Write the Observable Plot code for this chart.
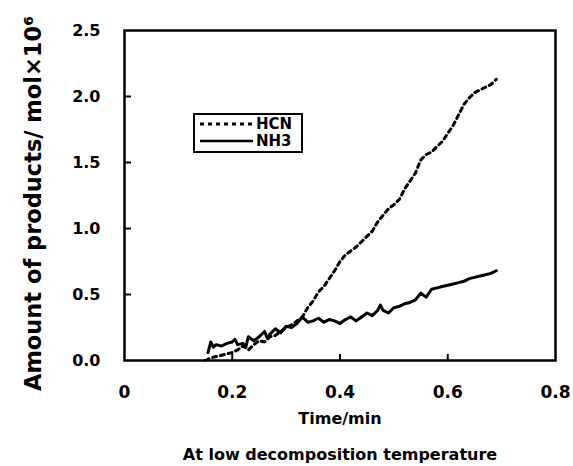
<!DOCTYPE html>
<html><head><meta charset="utf-8">
<script src="https://cdn.jsdelivr.net/npm/d3@7"></script>
<script src="https://cdn.jsdelivr.net/npm/@observablehq/plot@0.6"></script>
<style>
body{margin:0;background:#fff;}
#wrap{position:relative;width:573px;height:466px;}
#legend{position:absolute;left:193px;top:113px;width:110px;height:40px;box-sizing:border-box;border:2px solid #000;background:#fff;}
#legend svg{display:block;}
</style></head><body><div id="wrap"></div>
<script>
const seriesNames = ["HCN", "NH3"];
const hcnTime = [0.15,0.16,0.17,0.18,0.19,0.20,0.21,0.22,0.23,0.24,0.25,0.26,0.27,0.28,0.29,0.30,0.31,0.32,0.33,0.34,0.35,0.36,0.37,0.38,0.39,0.40,0.41,0.42,0.43,0.44,0.45,0.46,0.47,0.48,0.49,0.50,0.51,0.52,0.53,0.54,0.55,0.56,0.57,0.58,0.59,0.60,0.61,0.62,0.63,0.64,0.65,0.66,0.67,0.68,0.69];
const hcnAmount = [0.00,0.02,0.03,0.04,0.05,0.06,0.08,0.11,0.08,0.12,0.15,0.14,0.18,0.19,0.22,0.25,0.27,0.30,0.33,0.40,0.45,0.52,0.56,0.62,0.68,0.75,0.80,0.83,0.86,0.90,0.94,0.98,1.05,1.10,1.15,1.18,1.22,1.30,1.36,1.42,1.52,1.56,1.58,1.62,1.66,1.72,1.78,1.86,1.94,1.99,2.03,2.05,2.07,2.09,2.13];
const nh3Time = [0.155,0.16,0.165,0.17,0.18,0.19,0.20,0.205,0.21,0.22,0.225,0.23,0.24,0.25,0.26,0.265,0.27,0.28,0.29,0.30,0.31,0.32,0.33,0.34,0.35,0.36,0.37,0.38,0.39,0.40,0.41,0.42,0.43,0.44,0.45,0.46,0.47,0.475,0.48,0.49,0.50,0.51,0.52,0.53,0.54,0.55,0.56,0.57,0.58,0.59,0.60,0.61,0.62,0.63,0.64,0.65,0.66,0.67,0.68,0.69];
const nh3Amount = [0.06,0.14,0.10,0.12,0.11,0.13,0.14,0.16,0.12,0.13,0.10,0.18,0.15,0.18,0.22,0.17,0.20,0.24,0.21,0.26,0.25,0.28,0.33,0.29,0.30,0.32,0.29,0.31,0.30,0.28,0.31,0.33,0.30,0.33,0.36,0.34,0.38,0.42,0.38,0.36,0.40,0.41,0.43,0.44,0.46,0.51,0.48,0.54,0.55,0.56,0.57,0.58,0.59,0.60,0.62,0.63,0.64,0.65,0.66,0.68];
const xTicks = [0, 0.2, 0.4, 0.6, 0.8];
const yTicks = [0, 0.5, 1.0, 1.5, 2.0, 2.5];
const xInnerTicks = [0.2, 0.4, 0.6];
const yInnerTicks = [0.5, 1.0, 1.5, 2.0];
const xTitle = "Time/min";
const yTitle = "Amount of products/ mol×10⁶";
const captionText = "At low decomposition temperature";

const hcn = hcnTime.map((t, i) => ({t, v: hcnAmount[i]}));
const nh3 = nh3Time.map((t, i) => ({t, v: nh3Amount[i]}));

const W = 573, H = 466, mL = 124, mR = 18, mT = 30, mB = 106;
const pw = W - mL - mR, ph = H - mT - mB;
const font = "DejaVu Sans";

const chart = Plot.plot({
  width: W, height: H,
  marginLeft: mL, marginRight: mR, marginTop: mT, marginBottom: mB,
  style: {fontFamily: font, fontWeight: "bold", color: "#000", background: "#fff", overflow: "visible"},
  x: {domain: [0, 0.8]},
  y: {domain: [0, 2.5]},
  marks: [
    Plot.axisX(xTicks, {tickSize: 0, tickPadding: 25, fontSize: 17, fontWeight: "bold", tickFormat: d => d === 0 ? "0" : d.toFixed(1), label: null}),
    Plot.axisY(yTicks, {tickSize: 0, tickPadding: 24, fontSize: 16, fontWeight: "bold", tickFormat: d => d.toFixed(1), label: null}),
    Plot.tickY(yInnerTicks, {y: d => d, insetRight: pw - 7, strokeWidth: 2}),
    Plot.tickX(xInnerTicks, {x: d => d, insetTop: ph - 6, strokeWidth: 2}),
    Plot.line(nh3, {x: "t", y: "v", stroke: "#000", strokeWidth: 3, strokeLinejoin: "round"}),
    Plot.line(hcn, {x: "t", y: "v", stroke: "#000", strokeWidth: 3, strokeDasharray: "4,4"}),
    Plot.frame({stroke: "#000", strokeWidth: 2.5}),
    Plot.text([xTitle], {text: d => d, frameAnchor: "bottom", dy: 58, lineAnchor: "middle", fontSize: 16, fontWeight: "bold", fontFamily: font}),
    Plot.text([captionText], {text: d => d, frameAnchor: "bottom", dy: 94, lineAnchor: "middle", fontSize: 16, fontWeight: "bold", fontFamily: font}),
    Plot.text([yTitle], {text: d => d, frameAnchor: "left", dx: -91, dy: 8, rotate: -90, lineAnchor: "middle", textAnchor: "middle", fontSize: 22.5, fontWeight: "bold", fontFamily: font})
  ]
});
const wrap = document.getElementById("wrap");
wrap.appendChild(chart);

// legend
const leg = document.createElement("div");
leg.id = "legend";
wrap.appendChild(leg);
const ls = d3.select(leg).append("svg").attr("width", 106).attr("height", 36)
  .style("font-family", font).style("font-weight", "bold");
const rows = [{name: seriesNames[0], dash: "4,4", y: 9}, {name: seriesNames[1], dash: null, y: 26}];
for (const r of rows) {
  ls.append("line").attr("x1", 5).attr("x2", 58).attr("y1", r.y).attr("y2", r.y)
    .attr("stroke", "#000").attr("stroke-width", r.dash ? 3 : 2.5).attr("stroke-dasharray", r.dash);
  ls.append("text").attr("x", 61).attr("y", r.y).attr("dy", "0.36em").attr("font-size", 15).text(r.name);
}
</script>
</body></html>
